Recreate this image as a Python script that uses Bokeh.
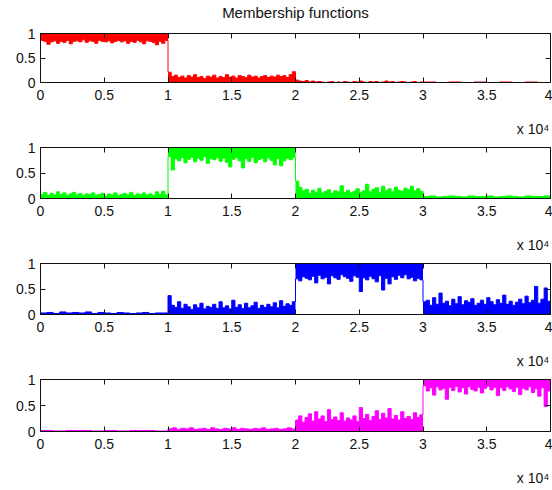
import numpy as np
from bokeh.plotting import figure
from bokeh.layouts import column
from bokeh.models import Range1d, FixedTicker, LinearAxis
from bokeh.embed import file_html
from bokeh.resources import INLINE

# ---------------------------------------------------------------------------
# Data: four membership functions over 40000 samples, split in four blocks of
# 10000 samples.  Each block stores the noisy edge of the trace: for the block
# where a class is active the edge is the lower boundary of the band below 1,
# elsewhere it is the upper boundary of the band above 0.
# ---------------------------------------------------------------------------
BLOCK_STARTS = [0, 10000, 20000, 30000]
BLOCK_LENGTH = 10000

X_TICKS = [0, 5000, 10000, 15000, 20000, 25000, 30000, 35000, 40000]
X_TICK_LABELS = ["0", "0.5", "1", "1.5", "2", "2.5", "3", "3.5", "4"]
Y_TICKS = [0, 0.5, 1]
Y_TICK_LABELS = ["0", "0.5", "1"]
TITLE = "Membership functions"
X_EXPONENT = "x 10\u2074"

red_blocks = [
    [0.86, 0.84, 0.78, 0.83, 0.85, 0.80, 0.84, 0.82, 0.86, 0.79, 0.84, 0.85, 0.83, 0.87, 0.82, 0.85, 0.84, 0.80, 0.86, 0.84,
     0.83, 0.85, 0.81, 0.84, 0.86, 0.83, 0.85, 0.80, 0.84, 0.82, 0.86, 0.83, 0.79, 0.85, 0.84, 0.82, 0.77, 0.84, 0.80, 0.86],
    [0.21, 0.12, 0.15, 0.10, 0.13, 0.09, 0.14, 0.11, 0.16, 0.10, 0.12, 0.08, 0.13, 0.11, 0.15, 0.09, 0.12, 0.10, 0.16, 0.11,
     0.13, 0.09, 0.14, 0.12, 0.10, 0.15, 0.11, 0.13, 0.09, 0.12, 0.14, 0.10, 0.13, 0.11, 0.15, 0.12, 0.14, 0.10, 0.16, 0.22],
    [0.05, 0.03, 0.02, 0.04, 0.01, 0.03, 0.01, 0.02, 0.01, 0.00, 0.01, 0.02, 0.00, 0.01, 0.00, 0.02, 0.01, 0.00, 0.02, 0.01,
     0.03, 0.01, 0.00, 0.02, 0.01, 0.02, 0.00, 0.01, 0.03, 0.01, 0.02, 0.00, 0.01, 0.02, 0.01, 0.00, 0.01, 0.02, 0.00, 0.01],
    [0.01, 0.00, 0.01, 0.00, 0.01, 0.00, 0.01, 0.00, 0.01, 0.00],
]

green_blocks = [
    [0.08, 0.12, 0.06, 0.10, 0.07, 0.13, 0.08, 0.11, 0.06, 0.09, 0.12, 0.07, 0.10, 0.06, 0.09, 0.08, 0.11, 0.06, 0.08, 0.10,
     0.05, 0.09, 0.07, 0.11, 0.06, 0.08, 0.10, 0.07, 0.12, 0.06, 0.09, 0.08, 0.11, 0.07, 0.09, 0.06, 0.13, 0.08, 0.14, 0.07],
    [0.82, 0.56, 0.78, 0.74, 0.80, 0.70, 0.77, 0.81, 0.72, 0.79, 0.75, 0.82, 0.69, 0.78, 0.76, 0.80, 0.73, 0.79, 0.71, 0.62,
     0.77, 0.80, 0.74, 0.60, 0.78, 0.73, 0.81, 0.70, 0.76, 0.79, 0.72, 0.80, 0.75, 0.66, 0.78, 0.64, 0.74, 0.79, 0.76, 0.80],
    [0.34, 0.22, 0.15, 0.18, 0.10, 0.16, 0.12, 0.20, 0.11, 0.14, 0.17, 0.10, 0.15, 0.13, 0.25, 0.12, 0.16, 0.11, 0.14, 0.19,
     0.12, 0.15, 0.28, 0.13, 0.18, 0.21, 0.12, 0.24, 0.15, 0.19, 0.13, 0.22, 0.16, 0.14, 0.20, 0.17, 0.24, 0.15, 0.19, 0.14],
    [0.04, 0.05, 0.03, 0.04, 0.05, 0.04, 0.03, 0.05, 0.04, 0.04, 0.05, 0.03, 0.04, 0.05, 0.04, 0.03, 0.05, 0.04, 0.04, 0.05],
]

blue_blocks = [
    [0.03, 0.04, 0.02, 0.05, 0.03, 0.04, 0.03, 0.05, 0.02, 0.04, 0.03, 0.02, 0.04, 0.03, 0.02, 0.03, 0.04, 0.02, 0.03, 0.03],
    [0.37, 0.18, 0.14, 0.25, 0.12, 0.20, 0.15, 0.10, 0.19, 0.13, 0.22, 0.11, 0.16, 0.14, 0.20, 0.12, 0.25, 0.13, 0.17, 0.11,
     0.28, 0.14, 0.19, 0.12, 0.22, 0.13, 0.17, 0.24, 0.12, 0.18, 0.14, 0.20, 0.15, 0.23, 0.13, 0.27, 0.16, 0.21, 0.18, 0.25],
    [0.70, 0.66, 0.74, 0.71, 0.68, 0.75, 0.62, 0.77, 0.70, 0.73, 0.60, 0.76, 0.72, 0.69, 0.78, 0.74, 0.71, 0.65, 0.76, 0.73,
     0.45, 0.72, 0.68, 0.75, 0.70, 0.64, 0.76, 0.48, 0.71, 0.60, 0.74, 0.69, 0.77, 0.72, 0.78, 0.70, 0.73, 0.66, 0.71, 0.68],
    [0.25, 0.28, 0.18, 0.33, 0.20, 0.42, 0.22, 0.26, 0.17, 0.30, 0.21, 0.35, 0.19, 0.27, 0.24, 0.31, 0.18, 0.22, 0.28, 0.20,
     0.33, 0.25, 0.19, 0.29, 0.22, 0.38, 0.20, 0.26, 0.18, 0.24, 0.30, 0.21, 0.36, 0.23, 0.28, 0.55, 0.22, 0.30, 0.52, 0.26],
]

magenta_blocks = [
    [0.02, 0.01, 0.02, 0.02, 0.01, 0.02, 0.01, 0.02, 0.02, 0.01],
    [0.05, 0.07, 0.04, 0.06, 0.05, 0.07, 0.04, 0.05, 0.06, 0.04, 0.07, 0.05, 0.04, 0.06, 0.05, 0.07, 0.04, 0.06, 0.05, 0.04,
     0.06, 0.05, 0.07, 0.04, 0.05, 0.06, 0.04, 0.05, 0.07, 0.05],
    [0.22, 0.30, 0.18, 0.27, 0.34, 0.20, 0.38, 0.24, 0.30, 0.19, 0.42, 0.23, 0.28, 0.21, 0.36, 0.20, 0.26, 0.22, 0.30, 0.19,
     0.46, 0.25, 0.33, 0.21, 0.29, 0.40, 0.23, 0.35, 0.26, 0.44, 0.24, 0.31, 0.22, 0.38, 0.25, 0.29, 0.23, 0.36, 0.27, 0.32],
    [0.88, 0.78, 0.84, 0.70, 0.86, 0.80, 0.83, 0.62, 0.85, 0.79, 0.87, 0.76, 0.84, 0.72, 0.86, 0.81, 0.78, 0.85, 0.74, 0.83,
     0.87, 0.80, 0.85, 0.69, 0.84, 0.79, 0.86, 0.82, 0.77, 0.85, 0.71, 0.83, 0.80, 0.86, 0.75, 0.82, 0.68, 0.84, 0.48, 0.78],
]

SERIES_BLOCKS = [red_blocks, green_blocks, blue_blocks, magenta_blocks]
SERIES_COLORS = ["#ff0000", "#00ff00", "#0000ff", "#ff00ff"]
ACTIVE_BLOCK = [0, 1, 2, 3]

FONT = "Liberation Sans"
INK = "#111111"
# trailing no-break spaces push the centred axis label towards the right end
LABEL_PAD = "\u00a0" * 9


def style_axis(axis, ticks, labels, show_labels, standoff):
    axis.ticker = FixedTicker(ticks=ticks)
    axis.major_label_overrides = {t: l for t, l in zip(ticks, labels)}
    axis.major_tick_in = 5
    axis.major_tick_out = 0
    axis.minor_tick_line_color = None
    axis.axis_line_color = INK
    axis.major_tick_line_color = INK
    axis.major_label_text_font = FONT
    axis.axis_label_text_font = FONT
    axis.axis_label_text_font_style = "normal"
    axis.axis_label_text_color = INK
    if show_labels:
        axis.major_label_text_color = INK
        axis.major_label_text_font_size = "14px"
        axis.major_label_standoff = standoff
    else:
        # tick marks only on the opposite sides of the box
        axis.major_label_text_color = None
        axis.major_label_text_font_size = "0px"
        axis.major_label_standoff = 0


def make_panel(index, border_top, border_bottom, height):
    p = figure(width=552, height=height,
               x_range=Range1d(0, 40000), y_range=Range1d(0, 1),
               output_backend="svg", toolbar_location=None,
               x_axis_location=None, y_axis_location=None,
               min_border_left=40, min_border_right=2,
               min_border_top=border_top, min_border_bottom=border_bottom)
    p.grid.visible = False
    p.outline_line_color = INK
    p.background_fill_color = "white"
    p.border_fill_color = "white"

    below = LinearAxis()
    style_axis(below, X_TICKS, X_TICK_LABELS, True, 7)
    # exponent note at the right end of the x axis
    below.axis_label = X_EXPONENT + LABEL_PAD
    below.axis_label_text_font_size = "14px"
    below.axis_label_standoff = 18
    below.axis_label_align = "end"
    p.add_layout(below, "below")

    above = LinearAxis()
    style_axis(above, X_TICKS, X_TICK_LABELS, False, 0)
    p.add_layout(above, "above")
    for side in ("left", "right"):
        ax = LinearAxis()
        style_axis(ax, Y_TICKS, Y_TICK_LABELS, side == "left", 5)
        p.add_layout(ax, side)

    color = SERIES_COLORS[index]
    xs_all, ys_all = [], []
    for b, edge in enumerate(SERIES_BLOCKS[index]):
        edge = np.asarray(edge, dtype=float)
        xs = np.linspace(BLOCK_STARTS[b], BLOCK_STARTS[b] + BLOCK_LENGTH, len(edge) + 1)
        ys = np.append(edge, edge[-1])
        if b == ACTIVE_BLOCK[index]:
            p.varea_step(x=xs, y1=ys, y2=np.ones_like(ys), step_mode="after", fill_color=color)
        else:
            p.varea_step(x=xs, y1=np.zeros_like(ys), y2=ys, step_mode="after", fill_color=color)
        xs_all.append(xs)
        ys_all.append(ys)
    p.step(np.concatenate(xs_all), np.concatenate(ys_all), mode="after",
           line_color=color, line_width=1)
    return p, above


panels = []
for i, (bt, bb, h) in enumerate([(31, 56, 139), (8, 56, 116), (8, 56, 116), (8, 59, 119)]):
    p, above = make_panel(i, bt, bb, h)
    if i == 0:
        # chart title carried by the top axis of the first panel
        above.axis_label = TITLE
        above.axis_label_text_font_size = "15px"
        above.axis_label_standoff = 13
    panels.append(p)

layout = column(*panels, spacing=0)
open("out.html", "w").write(file_html(layout, INLINE))
